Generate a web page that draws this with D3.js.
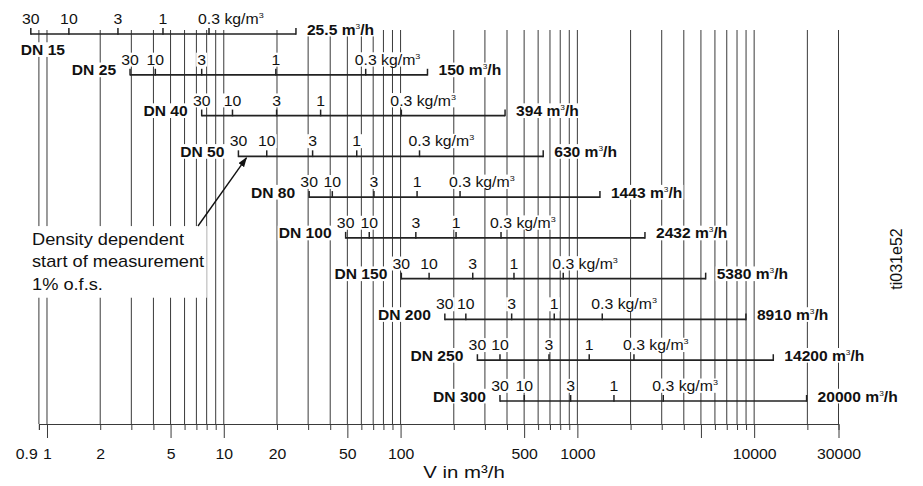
<!DOCTYPE html>
<html>
<head>
<meta charset="utf-8">
<script src="https://cdn.jsdelivr.net/npm/d3@7"></script>
<style>
  body { margin: 0; background: #fff; }
  svg { display: block; font-family: "Liberation Sans", Arial, Helvetica, sans-serif; }
</style>
</head>
<body>
<svg id="chart"></svg>
<script>
const width = 923, height = 486;

// nominal sizes, one bar each (top to bottom)
const sizes = ["DN 15", "DN 25", "DN 40", "DN 50", "DN 80", "DN 100", "DN 150", "DN 200", "DN 250", "DN 300"];

// density marks along each bar, kg/m3
const densityLabels = ["30", "10", "3", "1", "0.3"];

// flow (m3/h) where each density mark sits
const flowAt30  = [0.81, 2.95, 7.5, 12.1, 30.4, 48.9, 101, 178, 272, 365];
const flowAt10  = [1.33, 4.1, 11.2, 17.5, 41.1, 66.5, 145, 234, 365, 501];
const flowAt3   = [2.52, 7.5, 19.9, 31.8, 70.7, 122, 256, 425, 691, 916];
const flowAt1   = [4.53, 19.7, 35.3, 56.5, 124, 206, 438, 740, 1167, 1611];
const flowAt03  = [8.25, 63.5, 101, 128, 217, 370, 832, 1383, 2090, 3062];

// end of each bar as drawn, and its printed maximum
const barEnd   = [25.6, 142, 390, 641, 1342, 2412, 5318, 8986, 12830, 19800];
const maxLabel = ["25.5", "150", "394", "630", "1443", "2432", "5380", "8910", "14200", "20000"];

// bottom axis
const gridValues = [0.9]
  .concat(d3.range(1, 10), d3.range(10, 100, 10), d3.range(100, 1000, 100),
          d3.range(1000, 10000, 1000), [10000, 20000, 30000]);
const tickLabels = [0.9, 1, 2, 5, 10, 20, 50, 100, 500, 1000, 10000, 30000];
const longTicks  = [1, 5, 10, 50, 100, 500, 1000, 5000, 10000, 30000];

const noteLines = ["Density dependent", "start of measurement", "1% o.f.s."];

const lineColor = "#3a3a3a";
const barColor = "#222";
const textColor = "#111";
const sxReg = 1.13, sxBold = 1.04;

const svg = d3.select("#chart")
  .attr("width", width)
  .attr("height", height);

const xScale = d3.scaleLog().domain([0.9, 30000]).range([38.9, 838.5]);
const yScale = d3.scalePoint().domain(sizes).range([34, 401]);
const axisY = 424, gridTop = 30;

// arrow head
svg.append("defs").append("marker")
  .attr("id", "arrow")
  .attr("viewBox", "0 0 10 7")
  .attr("refX", 9).attr("refY", 3.5)
  .attr("markerWidth", 10).attr("markerHeight", 7)
  .attr("markerUnits", "userSpaceOnUse")
  .attr("orient", "auto")
  .append("path").attr("d", "M0,0L10,3.5L0,7z").attr("fill", "#111");

// vertical grid lines
svg.append("g")
  .selectAll("line")
  .data(gridValues)
  .join("line")
  .attr("x1", d => xScale(d))
  .attr("x2", d => xScale(d))
  .attr("y1", gridTop)
  .attr("y2", axisY)
  .attr("stroke", lineColor)
  .attr("stroke-width", 1);

// bottom axis
const gAxis = svg.append("g")
  .attr("transform", "translate(0," + axisY + ")")
  .call(d3.axisBottom(xScale)
    .tickValues(gridValues)
    .tickSizeOuter(0)
    .tickSize(6)
    .tickFormat(d => tickLabels.includes(d) ? d3.format("~g")(d) : ""));
gAxis.select(".domain").attr("stroke", lineColor);
gAxis.selectAll(".tick line")
  .attr("stroke", lineColor)
  .attr("y2", d => longTicks.includes(d) ? 14 : 6);
gAxis.selectAll(".tick text")
  .attr("font-family", "Liberation Sans, Arial, sans-serif")
  .attr("font-size", 14)
  .attr("fill", textColor)
  .attr("y", 25)
  .attr("transform", "scale(" + sxReg + ",1)")
  .attr("text-anchor", d => d === 0.9 ? "end" : "middle")
  .attr("x", d => d === 0.9 ? -1.5 : 0);

// axis title
svg.append("text")
  .attr("transform", "translate(464,478) scale(1.2,1)")
  .attr("text-anchor", "middle")
  .attr("font-size", 17)
  .attr("fill", textColor)
  .text("V in m³/h");

// side code
svg.append("text")
  .attr("transform", "translate(902,259) rotate(-90)")
  .attr("text-anchor", "middle")
  .attr("font-size", 16)
  .attr("fill", textColor)
  .text("ti031e52");

const labelLayer = svg.append("g");
const barLayer = svg.append("g");

// text on a white patch that hides the grid behind it
function addLabel(parent, x, y, anchor, sx, build) {
  const g = parent.append("g")
    .attr("transform", "translate(" + x + "," + y + ") scale(" + sx + ",1)");
  const bg = g.append("rect").attr("fill", "#fff");
  const t = g.append("text").attr("text-anchor", anchor).attr("fill", textColor);
  build(t);
  const b = t.node().getBBox();
  bg.attr("x", b.x - 1).attr("y", b.y + 1)
    .attr("width", b.width + 2).attr("height", b.height - 2);
  return g;
}

const flowCols = [flowAt30, flowAt10, flowAt3, flowAt1, flowAt03];

sizes.forEach((dn, i) => {
  const y = yScale(dn);
  const flows = flowCols.map(col => col[i]);
  const xStart = xScale(flows[0]);
  const xEnd = xScale(barEnd[i]);

  // bar
  barLayer.append("line")
    .attr("x1", xStart).attr("x2", xEnd)
    .attr("y1", y).attr("y2", y)
    .attr("stroke", barColor).attr("stroke-width", 1.7);

  // caps and density ticks
  flows.concat([barEnd[i]]).forEach(f => {
    barLayer.append("line")
      .attr("x1", xScale(f)).attr("x2", xScale(f))
      .attr("y1", y - 6).attr("y2", y + 0.8)
      .attr("stroke", barColor).attr("stroke-width", 1.5);
  });

  // density labels
  flows.forEach((f, j) => {
    const last = j === densityLabels.length - 1;
    addLabel(labelLayer, xScale(f), y - 10, last ? "start" : "middle", sxReg, t => {
      t.attr("font-size", 14);
      if (!last) {
        t.text(densityLabels[j]);
      } else {
        t.append("tspan").text(densityLabels[j] + " kg/m");
        t.append("tspan").attr("font-size", 8).attr("dy", -6).text("3");
        const w = t.node().getSubStringLength(0, densityLabels[j].length);
        t.attr("x", -w / 2);
      }
    });
  });

  // maximum flow
  addLabel(labelLayer, xEnd + 11, y + 0.5, "start", sxBold, t => {
    t.attr("font-size", 15).attr("font-weight", "bold");
    t.append("tspan").text(maxLabel[i] + " m");
    t.append("tspan").attr("font-size", 8).attr("font-weight", "normal").attr("dy", -6).text("3");
    t.append("tspan").attr("dy", 6).text("/h");
  });

  // size label, left of the bar (below it when there is no room)
  if (xStart - 70 < 0) {
    addLabel(labelLayer, xStart - 10, y + 21, "start", sxBold, t => {
      t.attr("font-size", 15).attr("font-weight", "bold").text(dn);
    });
  } else {
    addLabel(labelLayer, xStart - 14, y + 0.5, "end", sxBold, t => {
      t.attr("font-size", 15).attr("font-weight", "bold").text(dn);
    });
  }
});

// annotation
const note = svg.append("g").attr("transform", "translate(32,245) scale(1.14,1)");
const noteBg = note.append("rect").attr("fill", "#fff");
const noteText = note.append("text").attr("font-size", 16).attr("fill", textColor);
noteLines.forEach((s, k) => {
  noteText.append("tspan").attr("x", 0).attr("dy", k === 0 ? 0 : 22.5).text(s);
});
const nb = noteText.node().getBBox();
noteBg.attr("x", nb.x - 2).attr("y", nb.y - 4).attr("width", nb.width + 4).attr("height", nb.height + 8);

svg.append("line")
  .attr("x1", 198).attr("y1", 226)
  .attr("x2", xScale(flowAt30[3]) + 8).attr("y2", yScale("DN 50") + 1.5)
  .attr("stroke", "#111").attr("stroke-width", 1.4)
  .attr("marker-end", "url(#arrow)");
</script>
</body>
</html>
